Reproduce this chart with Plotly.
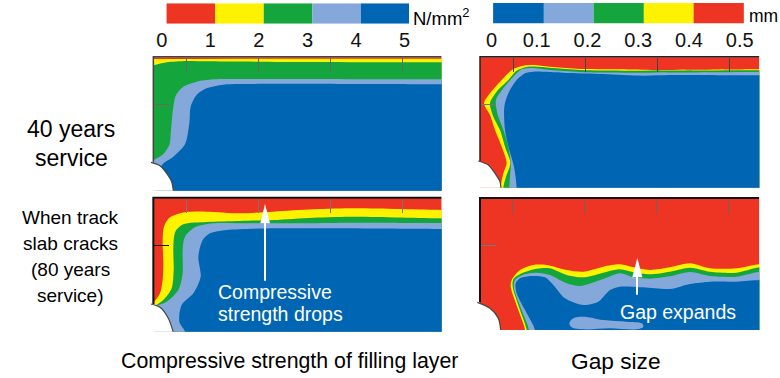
import plotly.graph_objects as go

RED, YELLOW, GREEN, LIGHT, BLUE = "#EE3423", "#FFF200", "#14A63C", "#85A8DB", "#0066B3"
FONT = "Liberation Sans"

# Colour scales
strength_ticks = [0, 1, 2, 3, 4, 5]
strength_edges = [0.1, 1.1, 2.1, 3.1, 4.1, 5.09]
strength_colors = [RED, YELLOW, GREEN, LIGHT, BLUE]
gap_ticks = [0.011, 0.1, 0.2, 0.3, 0.4, 0.5]
gap_labels = ["0", "0.1", "0.2", "0.3", "0.4", "0.5"]
gap_edges = [0.014, 0.114, 0.212, 0.311, 0.409, 0.508]
gap_colors = [BLUE, LIGHT, GREEN, YELLOW, RED]

# Contour boundaries. Each panel has its own scale.
tl_yellow = [(40, 177), (300, 176), (905, 176)]
tl_green = [(40, 196), (80, 187), (140, 183), (200, 184), (500, 186), (905, 187)]
tl_light = [(40, 481), (70, 462), (88, 435), (93, 390), (100, 320), (108, 285), (130, 260), (170, 245), (220, 238), (300, 237), (905, 238)]
tl_blue = [(65, 497), (100, 470), (135, 433), (148, 370), (152, 320), (170, 285), (200, 265), (250, 254), (300, 252), (905, 253)]
tl_arc = [(33, 487), (60, 497), (80, 520), (95, 545), (100, 572)]
tl_xticks = [139, 355, 570, 786]
tl_yticks = [313]

tr_yellow = [(92, 563), (100, 520), (110, 488), (95, 440), (75, 390), (60, 345), (42, 310), (60, 280), (95, 240), (130, 207), (160, 197), (190, 195), (240, 200), (320, 206), (450, 208), (560, 210), (868, 208)]
tr_green = [(100, 563), (108, 530), (121, 490), (105, 440), (90, 390), (70, 350), (60, 310), (80, 275), (115, 240), (140, 212), (170, 201), (200, 200), (250, 204), (330, 210), (480, 212), (868, 211)]
tr_light = [(118, 563), (122, 490), (115, 440), (100, 390), (82, 340), (78, 300), (100, 265), (130, 230), (155, 208), (185, 204), (240, 210), (330, 216), (480, 218), (868, 216)]
tr_blue = [(140, 563), (132, 500), (118, 450), (105, 390), (103, 320), (115, 280), (140, 240), (165, 220), (190, 215), (280, 218), (400, 222), (520, 227), (600, 225), (868, 226)]
tr_arc = [(25, 483), (55, 495), (75, 520), (90, 545), (93, 566)]
tr_xticks = [130, 345, 562, 778]
tr_yticks = [313]

bl_yellow = [(43, 335), (60, 310), (68, 270), (70, 220), (68, 150), (72, 110), (90, 82), (135, 67), (200, 65), (300, 70), (400, 65), (520, 58), (650, 55), (905, 60)]
bl_green = [(47, 347), (72, 328), (95, 295), (101, 240), (100, 170), (106, 125), (130, 103), (200, 96), (300, 93), (400, 90), (520, 83), (650, 80), (905, 85)]
bl_light = [(47, 347), (80, 335), (115, 300), (128, 250), (128, 180), (135, 140), (165, 112), (220, 100), (320, 100), (450, 100), (650, 98), (905, 99)]
bl_blue = [(135, 425), (118, 395), (125, 345), (160, 310), (182, 260), (175, 200), (188, 150), (210, 130), (260, 120), (400, 115), (600, 115), (905, 117)]
bl_arc = [(33, 342), (60, 352), (85, 385), (100, 427)]
bl_xticks = [139, 355, 570, 786]
bl_yticks = [166]
bl_arrow_x = [375, 375]
bl_arrow_y = [272, 95]
bl_head_x = [375, 390, 361]
bl_head_y = [42, 100, 100]

br_yellow = [(165, 420), (145, 360), (122, 290), (125, 270), (150, 240), (190, 225), (230, 225), (290, 240), (340, 245), (400, 230), (450, 223), (490, 232), (540, 240), (600, 232), (660, 220), (720, 235), (800, 235), (868, 223)]
br_green = [(170, 420), (150, 360), (128, 290), (130, 268), (155, 250), (200, 236), (240, 235), (290, 255), (340, 262), (400, 248), (450, 238), (490, 247), (540, 253), (600, 245), (660, 233), (720, 245), (800, 248), (868, 232)]
br_light = [(177, 420), (155, 360), (132, 295), (135, 270), (160, 254), (200, 248), (240, 255), (290, 280), (330, 288), (400, 267), (450, 250), (490, 262), (540, 266), (600, 259), (660, 246), (720, 258), (800, 260), (868, 245)]
br_blue = [(195, 420), (170, 370), (140, 310), (137, 280), (150, 265), (185, 258), (225, 262), (250, 285), (285, 325), (340, 345), (385, 335), (420, 300), (450, 290), (520, 292), (600, 297), (660, 282), (720, 275), (800, 275), (868, 270)]
br_blob = [(298, 400), (310, 385), (340, 380), (400, 390), (470, 395), (515, 400), (520, 410), (500, 418), (420, 415), (340, 418), (305, 412), (298, 400)]
br_arc = [(22, 337), (60, 355), (85, 385), (92, 420)]
br_xticks = [128, 344, 560, 776]
br_yticks = [167]
br_arrow_x = [501, 501]
br_arrow_y = [314, 255]
br_head_x = [502, 517, 487]
br_head_y = [203, 262, 262]

W, H = 780, 378
fig = go.Figure()
layout = dict(width=W, height=H, margin=dict(l=0, r=0, t=0, b=0, autoexpand=False), autosize=False,
              paper_bgcolor="white", plot_bgcolor="white", showlegend=False,
              barmode="overlay", font=dict(family=FONT, color="black"))
axis_n = [0]


def new_axes(px0, px1, py0, py1, xr, yr):
    axis_n[0] += 1
    n = axis_n[0]
    xa = dict(domain=[px0 / W, px1 / W], range=xr, showgrid=False, zeroline=False, showticklabels=False, ticks="", showline=False)
    ya = dict(domain=[1 - py1 / H, 1 - py0 / H], range=yr, showgrid=False, zeroline=False, showticklabels=False, ticks="", showline=False)
    return n, xa, ya


def add_axes(n, xa, ya):
    s = "" if n == 1 else str(n)
    xa["anchor"] = xa.get("anchor", "y" + s)
    ya["anchor"] = ya.get("anchor", "x" + s)
    layout["xaxis" + s] = xa
    layout["yaxis" + s] = ya
    return "x" + s, "y" + s


def panel(ox, oy, left, right, top, bottom, bands, arc, xticks, yticks, frame_color, tick_color, ytick_color, frame_w):
    n, xa, ya = new_axes(ox + (left - 18) / 3, ox + right / 3, oy + (top - 9) / 3, oy + bottom / 3,
                         [left - 18, right], [bottom, top - 9])
    xa.update(anchor="free", position=1 - (oy + top / 3) / H, side="top", ticks="inside", ticklen=14,
              tickwidth=1, tickcolor=tick_color, tickmode="array", tickvals=xticks)
    ya.update(anchor="free", position=(ox + left / 3) / W, side="left", ticks="inside", ticklen=15,
              tickwidth=1, tickcolor=ytick_color, tickmode="array", tickvals=yticks)
    x, y = add_axes(n, xa, ya)
    far_x, far_y = right + 70, bottom + 70
    fig.add_trace(go.Scatter(x=[left, right, right, left], y=[top, top, bottom, bottom], fill="toself",
                             fillcolor=RED, mode="lines", line=dict(width=0), xaxis=x, yaxis=y))
    for pts, col in bands:
        px = [p[0] for p in pts]
        py = [p[1] for p in pts]
        x_seq = px + [far_x, far_x, far_x, px[0]]
        y_seq = py + [py[-1], far_y, far_y, far_y]
        if px[0] > left + 12:
            x_seq = [px[0]] + x_seq
            y_seq = [far_y] + y_seq
        fig.add_trace(go.Scatter(x=x_seq, y=y_seq, fill="toself", fillcolor=col, mode="lines",
                                 line=dict(width=0, shape="spline", smoothing=0.8), xaxis=x, yaxis=y))
    ax = [p[0] for p in arc]
    ay = [p[1] for p in arc]
    fig.add_trace(go.Scatter(x=ax + [ax[-1], left - 40, left - 40], y=ay + [far_y, far_y, ay[0]], fill="toself",
                             fillcolor="white", mode="lines", line=dict(width=0, shape="spline", smoothing=0.8),
                             xaxis=x, yaxis=y))
    fig.add_trace(go.Scatter(x=ax, y=ay, mode="lines", line=dict(color="#444", width=1.2, shape="spline", smoothing=0.8),
                             xaxis=x, yaxis=y))
    fig.add_trace(go.Scatter(x=[left, left, right], y=[ay[0], top - 2, top - 2], mode="lines",
                             line=dict(color=frame_color, width=frame_w), xaxis=x, yaxis=y))
    return x, y


def colorbar(px0, px1, py0, py1, xr, edges, colors, ticks, labels):
    n, xa, ya = new_axes(px0, px1, py0, py1, xr, [-0.5, 0.5])
    xa.update(side="bottom", showticklabels=True, tickmode="array", tickvals=ticks, ticktext=labels,
              ticks="", ticklabelstandoff=2, tickfont=dict(family=FONT, size=20, color="#111"))
    x, y = add_axes(n, xa, ya)
    for i, c in enumerate(colors):
        fig.add_trace(go.Bar(y=[0], x=[edges[i + 1] - edges[i]], base=edges[i], orientation="h", width=1,
                             marker=dict(color=c, line=dict(width=0)), xaxis=x, yaxis=y))


colorbar(161.7, 409, 3.3, 23.7, [0, 5.09], strength_edges, strength_colors, strength_ticks, [str(t) for t in strength_ticks])
colorbar(486, 745, 3, 23.5, [0, 0.5103], gap_edges, gap_colors, gap_ticks, gap_labels)

panel(140, 0, 40, 905, 172, 572, [(tl_yellow, YELLOW), (tl_green, GREEN), (tl_light, LIGHT), (tl_blue, BLUE)], tl_arc,
      tl_xticks, tl_yticks, "#444", "#666", "#666", 1.5)
panel(470, 0, 30, 868, 172, 563, [(tr_yellow, YELLOW), (tr_green, GREEN), (tr_light, LIGHT), (tr_blue, BLUE)], tr_arc,
      tr_xticks, tr_yticks, "#222", "#444", "#777", 1.5)
blx, bly = panel(140, 190, 40, 905, 25, 425, [(bl_yellow, YELLOW), (bl_green, GREEN), (bl_light, LIGHT), (bl_blue, BLUE)], bl_arc,
                 bl_xticks, bl_yticks, "#111", "#777", "#111", 2)
brx, bry = panel(470, 190, 30, 868, 26, 420, [(br_yellow, YELLOW), (br_green, GREEN), (br_light, LIGHT), (br_blue, BLUE)], br_arc,
                 br_xticks, br_yticks, "#111", "#666", "#777", 2)

fig.add_trace(go.Scatter(x=[p[0] for p in br_blob], y=[p[1] for p in br_blob], fill="toself", fillcolor=LIGHT, mode="lines",
                         line=dict(width=0, shape="spline", smoothing=1), xaxis=brx, yaxis=bry))
for x, y, ax_, ay_, hx, hy in [(blx, bly, bl_arrow_x, bl_arrow_y, bl_head_x, bl_head_y),
                               (brx, bry, br_arrow_x, br_arrow_y, br_head_x, br_head_y)]:
    fig.add_trace(go.Scatter(x=ax_, y=ay_, mode="lines", line=dict(color="white", width=2), xaxis=x, yaxis=y))
    fig.add_trace(go.Scatter(x=hx, y=hy, fill="toself", fillcolor="white", mode="lines", line=dict(width=0), xaxis=x, yaxis=y))


def label(text, x, y, size, color="black", xanchor="center"):
    return dict(text=text, x=x / W, y=1 - y / H, xref="paper", yref="paper", showarrow=False, xanchor=xanchor, yanchor="middle",
                align="center", font=dict(family=FONT, size=size, color=color))


layout["annotations"] = [
    label("N/mm<sup>2</sup>", 411, 17, 18.5, xanchor="left"),
    label("mm", 747, 16, 17.5, xanchor="left"),
    label("40 years", 71, 129, 23),
    label("service", 71, 158, 23),
    label("When track", 70, 217, 19),
    label("slab cracks", 70, 243, 19),
    label("(80 years", 70, 269, 19),
    label("service)", 70, 295, 19),
    label("Compressive", 215.5, 292, 19.5, "white", "left"),
    label("strength drops", 215.5, 314, 19.5, "white", "left"),
    label("Gap expands", 617.5, 312, 19.5, "white", "left"),
    label("Compressive strength of filling layer", 289, 361, 21.3),
    label("Gap size", 616, 361, 22.7),
]
fig.update_layout(**layout)
fig.write_html("out.html", config={"displayModeBar": False},
               post_script="document.body.style.margin='0';document.body.style.overflow='hidden';")
